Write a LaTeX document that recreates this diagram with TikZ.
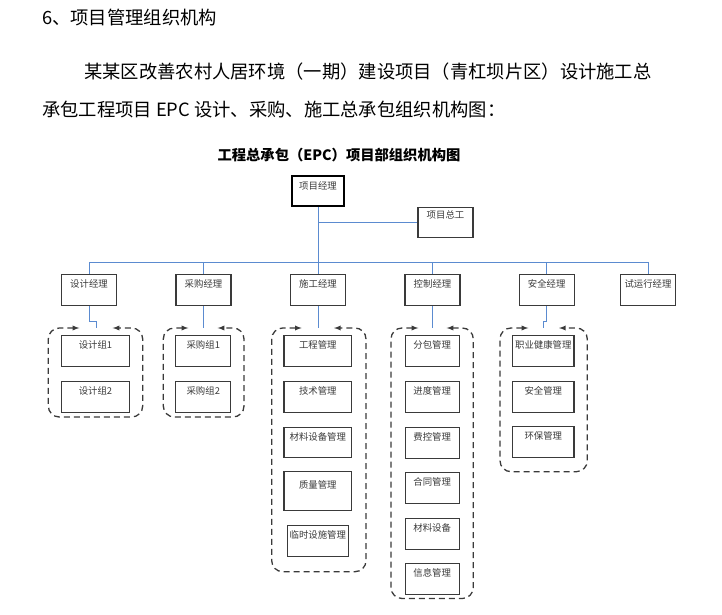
\documentclass[tikz,border=0pt]{standalone}
\usepackage{fontspec}
\setmainfont{Noto Sans CJK SC}
\XeTeXlinebreaklocale "zh"
\XeTeXlinebreakskip=0pt plus 3pt
\definecolor{linkblue}{HTML}{5B8BD0}
\definecolor{boxgray}{HTML}{3A3A3A}
\tikzset{
  box/.style={draw=boxgray, line width=1.1pt, text=boxgray,
    font=\fontsize{9.4}{11}\selectfont, minimum width=55pt,
    inner xsep=1pt, inner ysep=1pt, text height=11.8pt, text depth=17.2pt,
    anchor=north},
  link/.style={draw=linkblue, line width=0.9pt},
  grp/.style={draw=boxgray, line width=1.3pt, dash pattern=on 6pt off 4pt,
    rounded corners=11pt},
  para/.style={anchor=west, inner sep=0pt, font=\fontsize{18.3}{22}\selectfont}
}
\begin{document}
\begin{tikzpicture}[x=1pt,y=-1pt,>=latex]
\useasboundingbox (0,0) rectangle (722,615);

%text above the chart
\node[para] (t1) at (42,18) {6、项目管理组织机构};
\node[para] (t2) at (84,72) {\makebox[578pt][s]{某某区改善农村人居环境（一期）建设项目（青杠坝片区）设计施工总}};
\node[para] (t3) at (42,110) {承包工程项目 EPC 设计、采购、施工总承包组织机构图：};
\node[font=\bfseries\fontsize{14.3}{17}\selectfont] (title) at (339,155) {工程总承包（EPC）项目部组织机构图};

%top
\node[box, draw=black, line width=2.2pt, minimum width=52pt, text height=12.6pt, text depth=15.4pt] (pm) at (318,175) {项目经理};
\node[box, text height=9.6pt, text depth=18.4pt] (zg) at (445.5,207) {项目总工};

\coordinate (bus) at (318,262);
\coordinate (top) at (0,328);

%managers
\node[box] (m1) at (89,274) {设计经理};
\node[box] (m2) at (203.5,274) {采购经理};
\node[box] (m3) at (318,274) {施工经理};
\node[box] (m4) at (432.5,274) {控制经理};
\node[box] (m5) at (546.7,274) {安全经理};
\node[box] (m6) at (648,274) {试运行经理};

\draw[link] (pm.south) -- (pm.south |- bus);
\draw[link] (pm.south |- zg.west) -- (zg.west);
\draw[link] (m1.north |- bus) -- (m6.north |- bus);
\draw[link] (m1.north) -- (m1.north |- bus);
\draw[link] (m2.north) -- (m2.north |- bus);
\draw[link] (m3.north) -- (m3.north |- bus);
\draw[link] (m4.north) -- (m4.north |- bus);
\draw[link] (m5.north) -- (m5.north |- bus);
\draw[link] (m6.north) -- (m6.north |- bus);

%design
\node[box, minimum width=67.6pt] (d1) at (95.5,335) {设计组1};
\node[box, minimum width=67.6pt] (d2) at (95.5,380.7) {设计组2};
\coordinate (g1) at (96,328);
\draw[link] (m1.south) -- ++(0,15) -| (g1);
\draw[grp,<->] (79.3,328) -- (48.3,328) -- (48.3,417) -- (142.7,417) -- (142.7,328) -- (112.7,328);

%purchase
\node[box] (c1) at (203.3,335) {采购组1};
\node[box] (c2) at (203.3,380.7) {采购组2};
\draw[link] (m2.south) -- (m2.south |- top);
\draw[grp,<->] (188.3,328) -- (163.3,328) -- (163.3,417) -- (244,417) -- (244,328) -- (217.7,328);

%construction
\node[box, minimum width=67.7pt] (s1) at (317.8,335) {工程管理};
\node[box, minimum width=67.7pt] (s2) at (317.8,380.7) {技术管理};
\node[box, minimum width=67.7pt, text depth=16.8pt] (s3) at (317.8,426.7) {材料设备管理};
\node[box, minimum width=67.7pt, text height=16pt, text depth=21.3pt] (s4) at (317.8,470.7) {质量管理};
\node[box, minimum width=61pt] (s5) at (317.8,525) {临时设施管理};
\draw[link] (m3.south) -- (m3.south |- top);
\draw[grp,<->] (301.7,328) -- (271.7,328) -- (271.7,571.7) -- (366,571.7) -- (366,328) -- (334,328);

%control
\node[box, minimum width=54.3pt] (k1) at (432.2,335) {分包管理};
\node[box, minimum width=54.3pt] (k2) at (432.2,380.7) {进度管理};
\node[box, minimum width=54.3pt] (k3) at (432.2,426.7) {费控管理};
\node[box, minimum width=54.3pt] (k4) at (432.2,471.7) {合同管理};
\node[box, minimum width=54.3pt] (k5) at (432.2,517.7) {材料设备};
\node[box, minimum width=54.3pt] (k6) at (432.2,563.3) {信息管理};
\draw[link] (m4.south) -- (m4.south |- top);
\draw[grp,<->] (418.3,328) -- (391,328) -- (391,598.5) -- (473.3,598.5) -- (473.3,328) -- (446.7,328);

%safety
\node[box, minimum width=61.3pt] (a1) at (543.3,335) {职业健康管理};
\node[box, minimum width=61.3pt] (a2) at (543.3,380.7) {安全管理};
\node[box, minimum width=61.3pt] (a3) at (543.3,426) {环保管理};
\coordinate (g5) at (543.3,328);
\draw[link] (m5.south) -- ++(0,15) -| (g5);
\draw[grp,<->] (528.3,328) -- (500,328) -- (500,471.7) -- (587.3,471.7) -- (587.3,328) -- (559,328);

\end{tikzpicture}
\end{document}
